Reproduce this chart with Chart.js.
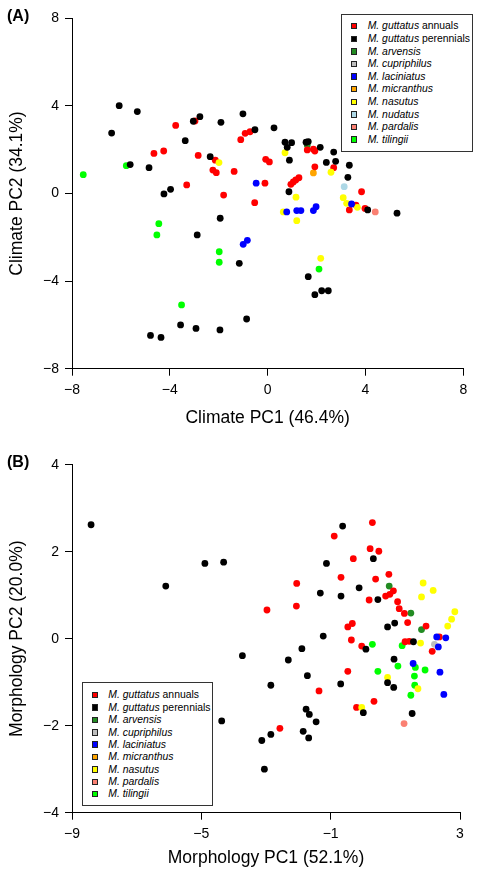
<!DOCTYPE html>
<html>
<head>
<meta charset="utf-8">
<script src="https://cdn.jsdelivr.net/npm/chart.js@4/dist/chart.umd.min.js"></script>
<style>
  body { margin: 0; background: #fff; font-family: "Liberation Sans", Arial, sans-serif; }
  #wrap { position: relative; width: 482px; height: 875px; }
  canvas { position: absolute; left: 0; }
  .panel { position: absolute; left: 7px; font-weight: bold; font-size: 16px; line-height: 18px; }
  .legend { position: absolute; border: 1px solid #333; box-sizing: border-box; background: #fff; }
  .row { position: absolute; height: 13px; line-height: 13px; font-size: 10.4px; white-space: nowrap; }
  .sw { position: absolute; top: 3.5px; width: 6.5px; height: 6.5px; border: 1px solid #222; box-sizing: border-box; }
</style>
</head>
<body>
<div id="wrap">
  <canvas id="climChart" width="482" height="437" style="top:0"></canvas>
  <canvas id="morphChart" width="482" height="438" style="top:437px"></canvas>
  <div class="panel" style="top:7px">(A)</div>
  <div class="panel" style="top:453px">(B)</div>
  <div class="legend" id="climLegend" style="left:340.7px; top:14.3px; width:132.6px; height:137.4px"></div>
  <div class="legend" id="morphLegend" style="left:81.7px; top:681.7px; width:131.6px; height:124.3px"></div>
</div>
<script>
// species legend
var nameItalic = ['M. guttatus', 'M. guttatus', 'M. arvensis', 'M. cupriphilus', 'M. laciniatus',
                  'M. micranthus', 'M. nasutus', 'M. nudatus', 'M. pardalis', 'M. tilingii'];
var nameRest = [' annuals', ' perennials', '', '', '', '', '', '', '', ''];
var speciesColors = ['#ff0000', '#000000', '#228b22', '#bebebe', '#0000ff',
                     '#ffa500', '#ffff00', '#add8e6', '#fa8072', '#00ff00'];
var drawOrder = [3, 0, 4, 4, 1, 4, 2, 4, 4, 4];

// axis ticks
var climTicks = [-8, -4, 0, 4, 8];
var morphXTicks = [-9, -5, -1, 3];
var morphYTicks = [-4, -2, 0, 2, 4];

// (A) climate PCA: [PC1, PC2]
var climAnnuals = [[-3.76,3.11],[-2.97,3.31],[-0.92,2.75],[-0.72,2.82],[-1.10,2.46],[-4.65,1.83],[-4.25,1.94],
  [-2.84,1.74],[-2.14,1.52],[-2.24,1.07],[-2.10,0.95],[-1.37,1.01],[-3.31,0.39],[-1.80,-0.07],[-0.53,-0.42],
  [-0.08,1.56],[0.07,1.44],[-0.11,0.47],[0.95,0.42],[1.05,0.53],[1.15,0.62],[1.28,0.72],[1.62,1.99],[1.87,2.02],
  [1.93,1.94],[2.70,1.18],[1.93,1.22],[3.84,0.08],[3.34,-0.75],[3.61,-0.53],[3.98,-0.68]];
var climPerennials = [[-6.07,4.01],[-5.33,3.74],[-6.38,2.76],[-3.04,3.30],[-2.77,3.51],[-1.91,3.25],[-1.01,3.64],
  [-0.52,2.91],[-3.37,2.41],[-2.35,1.68],[-5.62,1.32],[-4.85,1.18],[-4.24,-0.02],[-3.97,0.19],[-1.94,-1.13],
  [-2.88,-1.89],[0.26,3.0],[0.71,2.34],[0.98,2.32],[0.80,2.11],[0.89,1.52],[1.57,2.34],[1.66,2.37],[2.15,2.11],
  [2.70,1.89],[2.40,1.42],[2.78,1.47],[3.34,1.29],[3.28,0.74],[0.87,0.08],[4.09,-0.75],[5.29,-0.90],[-1.16,-3.19],
  [1.66,-3.80],[1.93,-4.62],[2.21,-4.44],[2.48,-4.44],[-3.56,-6.0],[-2.93,-6.16],[-1.95,-6.23],[-0.86,-5.73],
  [-4.79,-6.48],[-4.36,-6.57]];
var climArvensis = [[1.62,2.21]];
var climCupriphilus = [];
var climLaciniatus = [[-0.47,0.47],[0.78,-0.84],[1.19,-0.78],[1.36,-0.78],[1.87,-0.78],[1.98,-0.60],[3.43,-0.48],
  [-1.0,-2.32],[-0.83,-2.14]];
var climMicranthus = [[1.87,0.94]];
var climNasutus = [[-1.99,1.41],[0.71,1.86],[2.59,0.97],[1.16,-0.17],[3.09,-0.19],[3.23,-0.45],[3.67,-0.63],
  [0.64,-0.84],[1.19,-1.24],[2.17,-2.96]];
var climNudatus = [[3.13,0.31]];
var climPardalis = [[4.40,-0.84]];
var climTilingii = [[-7.54,0.86],[-5.78,1.27],[-4.45,-1.38],[-4.53,-1.89],[-1.98,-2.66],[-1.98,-3.14],[2.10,-3.45],
  [-3.52,-5.09]];

// (B) morphology PCA: [PC1, PC2]
var morphAnnuals = [[-0.89,2.36],[0.29,2.67],[0.22,2.07],[0.49,2.01],[-0.30,1.84],[-0.68,1.41],[0.39,1.37],
  [0.80,1.48],[0.19,0.89],[0.70,0.98],[0.83,1.02],[0.94,1.10],[1.07,0.85],[1.12,0.69],[1.28,0.58],[1.38,0.37],
  [1.95,0.29],[-0.47,0.27],[-0.33,0.35],[-2.05,1.27],[-2.06,0.75],[-2.97,0.66],[-0.36,-0.03],[-0.04,-0.17],
  [1.30,-0.07],[1.43,-0.06],[2.14,-0.29],[2.36,0.04],[-0.47,-0.75],[-1.36,-1.20],[0.34,-1.44],[-0.20,-1.58],
  [-2.57,-2.06]];
var morphPerennials = [[-8.41,2.62],[-4.89,1.73],[-4.31,1.76],[-0.63,2.59],[-1.13,1.73],[0.32,1.84],[-0.12,1.17],
  [-1.32,1.05],[-0.68,0.98],[0.46,0.90],[0.76,0.27],[0.98,0.36],[-6.10,1.21],[-1.23,0.06],[0.09,-0.24],[1.56,-0.07],
  [-3.73,-0.39],[-2.31,-0.49],[-1.89,-0.23],[0.96,-0.47],[-1.72,-0.85],[-2.85,-1.07],[-0.69,-1.04],[0.76,-1.01],
  [0.95,-1.12],[0.01,-1.70],[1.52,-1.72],[-1.76,-1.62],[-1.66,-1.74],[-4.37,-1.89],[-3.13,-2.34],[-2.85,-2.20],
  [-3.05,-3.0],[-1.85,-2.13],[-1.68,-2.28],[-1.45,-1.91]];
var morphArvensis = [[0.81,1.21],[1.48,0.59],[1.81,0.21]];
var morphCupriphilus = [[2.21,-0.13]];
var morphLaciniatus = [[2.28,0.04],[2.56,0.02],[2.33,-0.19],[1.55,-0.57],[2.38,-0.77],[2.50,-1.28]];
var morphMicranthus = [];
var morphNasutus = [[1.86,1.28],[2.17,1.11],[1.81,0.96],[2.84,0.62],[2.74,0.45],[2.62,0.29],[1.78,-0.10],
  [0.76,-0.89],[1.70,-1.15],[-0.04,-1.58]];
var morphNudatus = [];
var morphPardalis = [[1.27,-1.95]];
var morphTilingii = [[0.29,-0.13],[1.21,-0.16],[0.46,-0.75],[1.08,-0.63],[1.62,-0.66],[1.92,-0.72],[1.59,-0.86],
  [1.60,-1.07],[1.48,-1.30]];

var climSets = [climAnnuals, climPerennials, climArvensis, climCupriphilus, climLaciniatus,
                climMicranthus, climNasutus, climNudatus, climPardalis, climTilingii];
var morphSets = [morphAnnuals, morphPerennials, morphArvensis, morphCupriphilus, morphLaciniatus,
                 morphMicranthus, morphNasutus, morphNudatus, morphPardalis, morphTilingii];

var FONT = '"Liberation Sans", Arial, sans-serif';
var minus = function (v) { return String(v).replace('-', '\u2212'); };

function makeChart(id, sets, xTicks, yTicks, xTitle, yTitle, opt) {
  var datasets = sets.map(function (pts, i) {
    return {
      label: nameItalic[i] + nameRest[i],
      data: pts.map(function (p) { return {x: p[0], y: p[1]}; }),
      backgroundColor: speciesColors[i],
      pointRadius: 3.4,
      pointBorderWidth: 0,
      order: drawOrder[i]
    };
  });
  function axis(ticks, title, fixSize, titlePad) {
    return {
      type: 'linear',
      min: ticks[0],
      max: ticks[ticks.length - 1],
      afterBuildTicks: function (s) { s.ticks = ticks.map(function (v) { return {value: v}; }); },
      afterFit: fixSize,
      grid: { drawOnChartArea: false, drawTicks: true, tickLength: 7, color: '#000', lineWidth: 1 },
      border: { display: true, color: '#000', width: 1 },
      ticks: { color: '#000', padding: 6, font: { family: FONT, size: 14 }, callback: minus, maxRotation: 0 },
      title: { display: true, text: title, color: '#000', font: { family: FONT, size: 17.5 }, padding: titlePad }
    };
  }
  return new Chart(document.getElementById(id), {
    type: 'scatter',
    data: { datasets: datasets },
    options: {
      responsive: false,
      animation: false,
      layout: { padding: { top: opt.top, right: opt.right, bottom: 0, left: 0 } },
      plugins: { legend: { display: false }, tooltip: { enabled: false } },
      scales: {
        x: axis(xTicks, xTitle, function (s) { s.height = opt.xh; }, { top: 0, bottom: opt.xpad }),
        y: axis(yTicks, yTitle, function (s) { s.width = 72; }, { top: 6.5, bottom: 0 })
      }
    }
  });
}

makeChart('climChart', climSets, climTicks, climTicks, 'Climate PC1 (46.4%)', 'Climate PC2 (34.1%)',
  { top: 18.3, right: 18.7, xh: 68.3, xpad: 8.5 });
makeChart('morphChart', morphSets, morphXTicks, morphYTicks, 'Morphology PC1 (52.1%)', 'Morphology PC2 (20.0%)',
  { top: 27.7, right: 22, xh: 62.3, xpad: 6.2 });

function buildLegend(id, idx, firstY, step, swX, textX) {
  var box = document.getElementById(id);
  idx.forEach(function (k, r) {
    var row = document.createElement('div');
    row.className = 'row';
    row.style.top = (firstY + r * step - 6.5) + 'px';
    row.style.left = '0px';
    var sw = document.createElement('span');
    sw.className = 'sw';
    sw.style.left = swX + 'px';
    sw.style.background = speciesColors[k];
    var txt = document.createElement('span');
    txt.style.position = 'absolute';
    txt.style.left = textX + 'px';
    txt.innerHTML = '<i>' + nameItalic[k] + '</i>' + nameRest[k];
    row.appendChild(sw);
    row.appendChild(txt);
    box.appendChild(row);
  });
}
buildLegend('climLegend', [0, 1, 2, 3, 4, 5, 6, 7, 8, 9], 10.7, 12.59, 9.3, 26);
buildLegend('morphLegend', [0, 1, 2, 3, 4, 5, 6, 8, 9], 12.3, 12.375, 9.3, 25.6);
</script>
</body>
</html>
